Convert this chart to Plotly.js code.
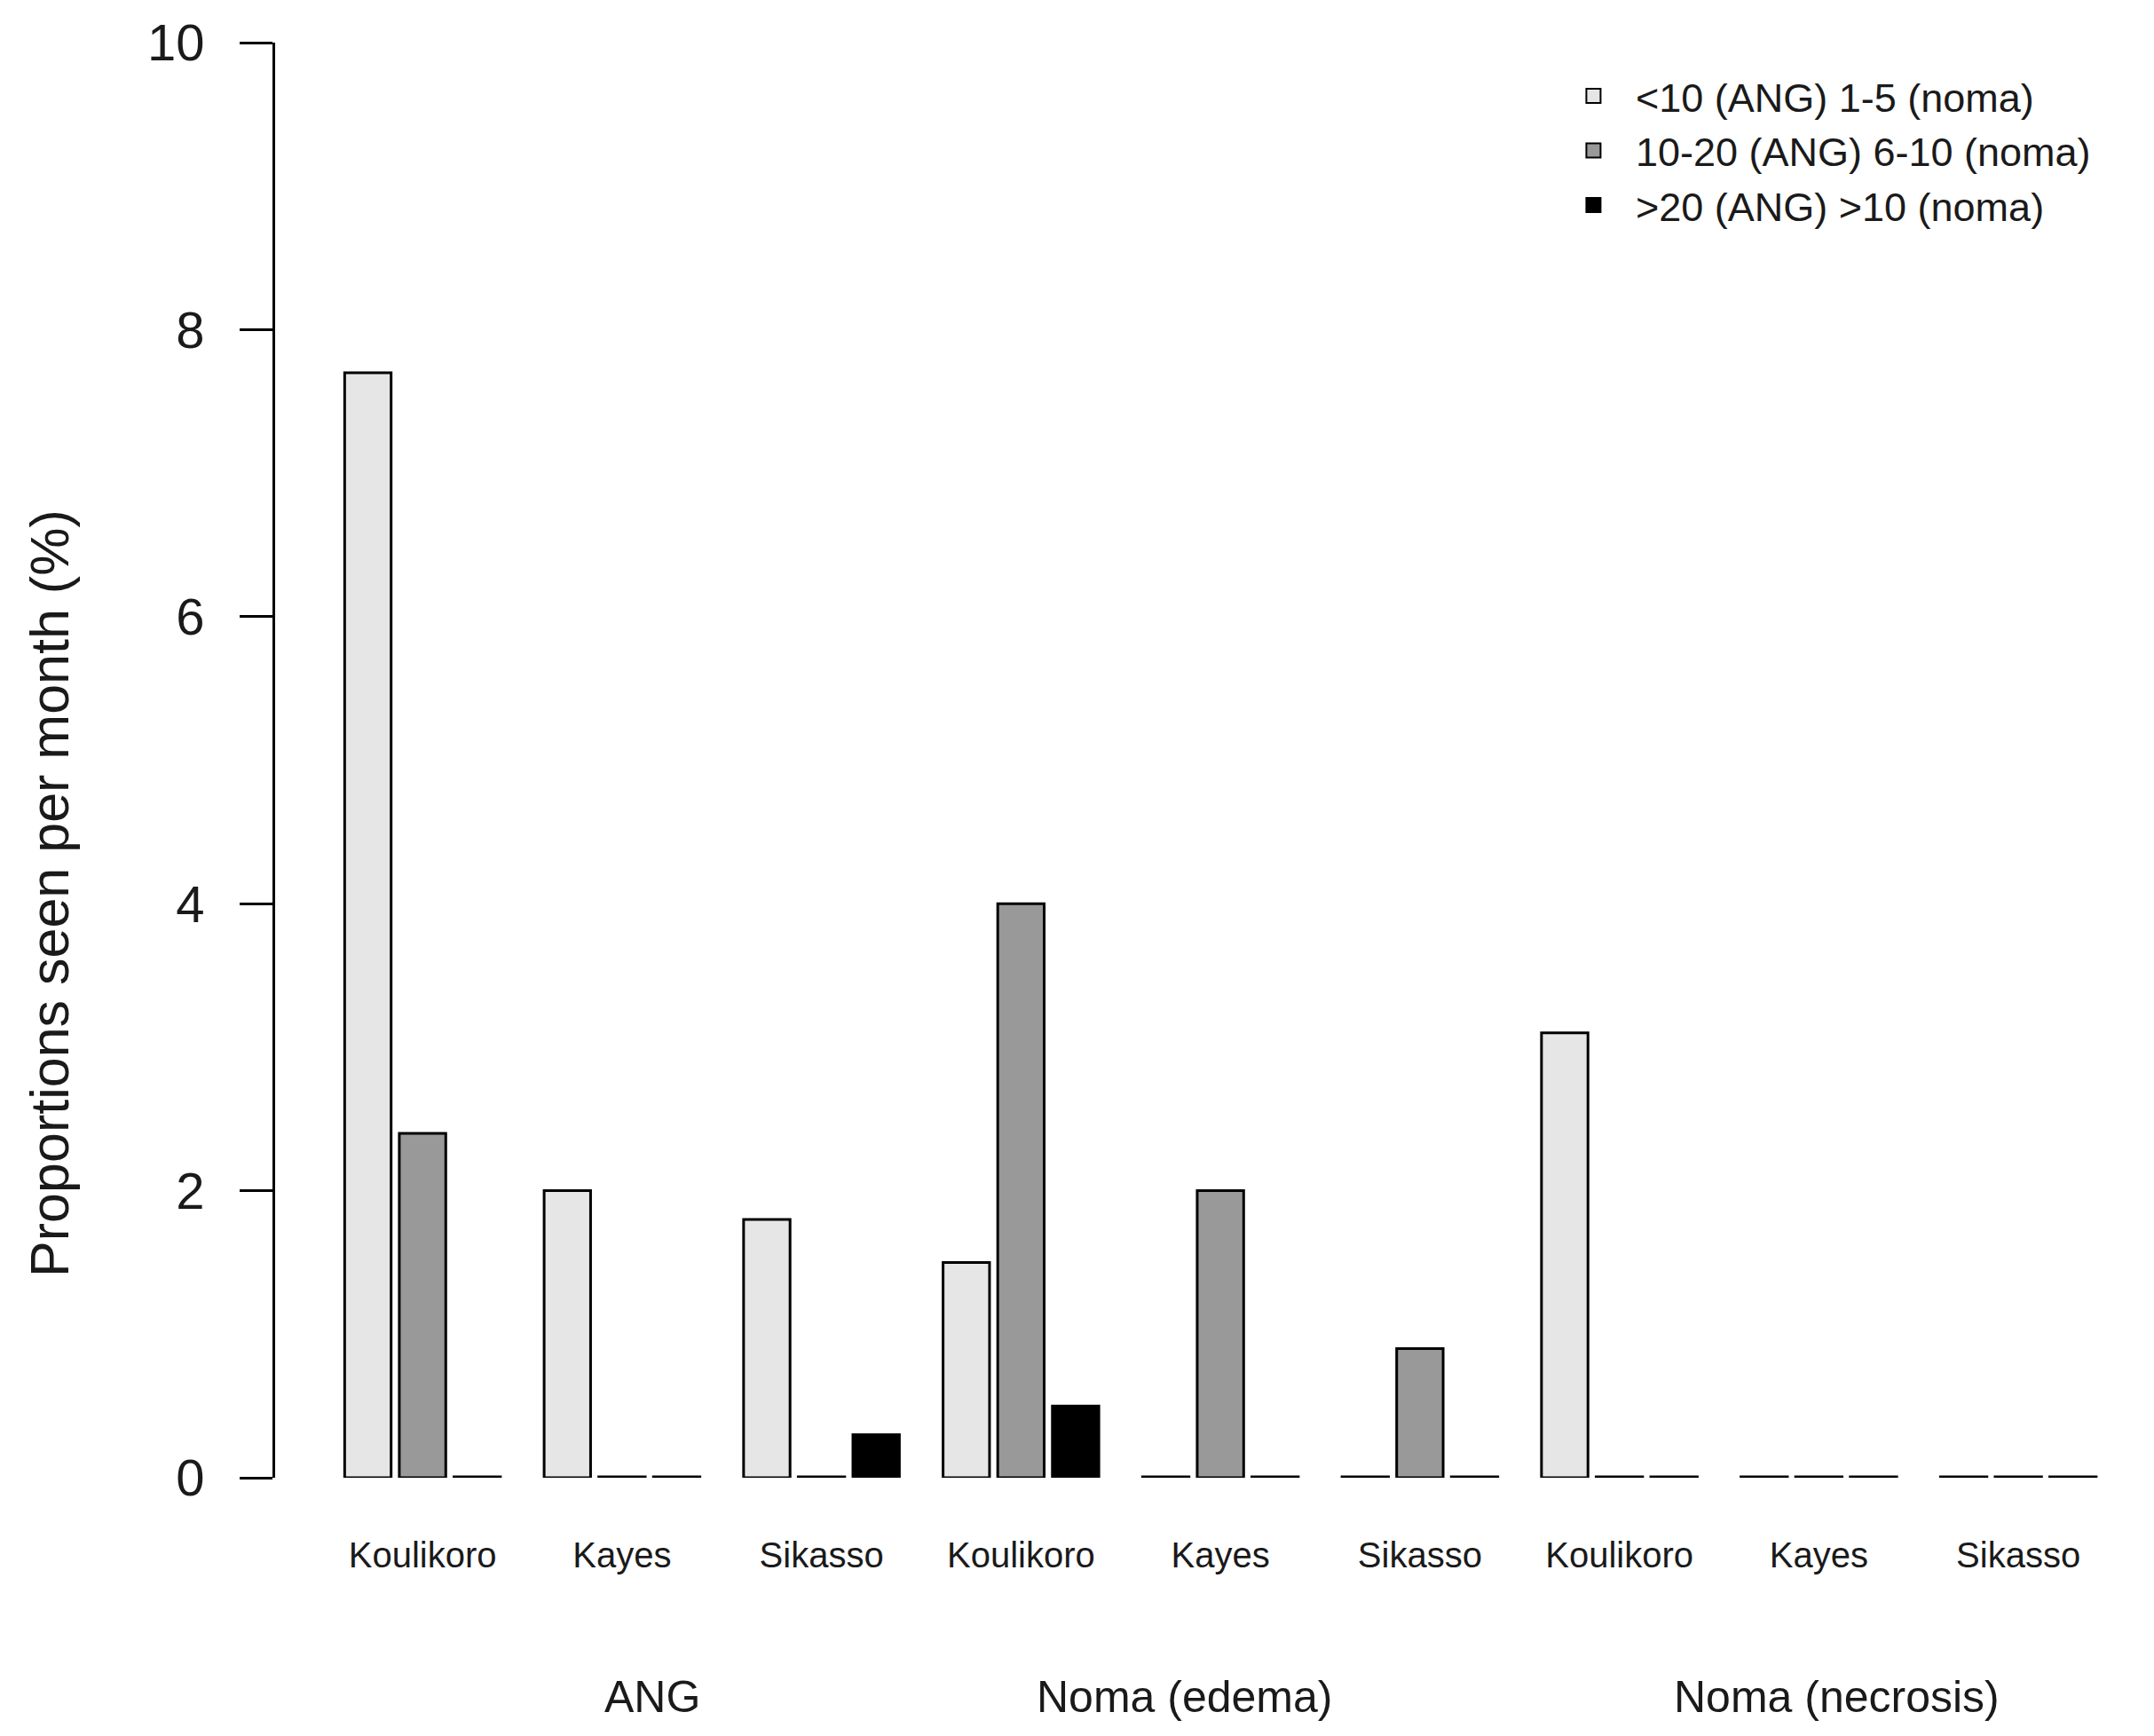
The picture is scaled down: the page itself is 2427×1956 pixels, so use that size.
<!DOCTYPE html>
<html>
<head>
<meta charset="utf-8">
<script src="https://cdn.plot.ly/plotly-3.0.1.min.js"></script>
<style>
	html, body { margin: 0; padding: 0; background: #fff; }
	#crtNoma { width: 2427px; height: 1956px; }
</style>
</head>
<body>
<div id="crtNoma"></div>
<script>
// Outer grouping (lesion type) and inner grouping (region)
var groups = ["ANG", "ANG", "ANG", "Noma (edema)", "Noma (edema)", "Noma (edema)", "Noma (necrosis)", "Noma (necrosis)", "Noma (necrosis)"];
var regions = ["Koulikoro", "Kayes", "Sikasso", "Koulikoro", "Kayes", "Sikasso", "Koulikoro", "Kayes", "Sikasso"];

// Proportions seen per month (%) for each class of cases
var lowVals = [7.7, 2.0, 1.8, 1.5, 0, 0, 3.1, 0, 0];
var midVals = [2.4, 0, 0, 4.0, 2.0, 0.9, 0, 0, 0];
var highVals = [0, 0, 0.3, 0.5, 0, 0, 0, 0, 0];

var seriesNames = ["<10 (ANG) 1-5 (noma)", "10-20 (ANG) 6-10 (noma)", ">20 (ANG) >10 (noma)"];
var seriesColors = ["#e6e6e6", "#999999", "#000000"];

// small shift of the group labels, like the hand placed labels of the original
var groupShift = [34, -41, 20];

var textCol = "#1a1a1a";
var font = "Liberation Sans, Arial, sans-serif";

// unique category id for each bar group
var catIds = [];
for (var i = 0; i < groups.length; i++) {
	catIds.push(groups[i] + "|" + regions[i]);
}

/**
 * Build one bar trace
 * zero values are drawn as a flat outline (like R does) so they get a hair height
 */
var makeTrace = function(vals, idx) {
	var shown = [];
	for (var i = 0; i < vals.length; i++) {
		shown.push(vals[i] === 0 ? 0.006 : vals[i]);
	}
	return {
		x: catIds,
		y: shown,
		customdata: vals,
		name: seriesNames[idx],
		legendgroup: 's' + idx,
		showlegend: false,
		type: 'bar',
		cliponaxis: false,
		marker: {
			color: seriesColors[idx],
			line: { color: "#000000", width: 3 }
		},
		hovertemplate: "%{x}<br>%{customdata}%<extra>" + seriesNames[idx] + "</extra>"
	};
};

/**
 * Legend entry only: a square marker is drawn bigger in the legend than a bar key
 */
var makeKey = function(idx) {
	return {
		x: [null],
		y: [null],
		name: seriesNames[idx],
		legendgroup: 's' + idx,
		type: 'scatter',
		mode: 'markers',
		hoverinfo: 'skip',
		marker: {
			symbol: 'square',
			size: 16,
			color: seriesColors[idx],
			line: { color: "#000000", width: 2 }
		}
	};
};

var data = [];
for (var s = 0; s < 3; s++) {
	data.push(makeTrace([lowVals, midVals, highVals][s], s));
}
for (var s = 0; s < 3; s++) {
	data.push(makeKey(s));
}

// one label per lesion type, under the middle region of its group
var annotations = [];
var seen = {};
var k = 0;
for (var i = 0; i < groups.length; i++) {
	if (seen[groups[i]] === undefined) {
		seen[groups[i]] = true;
		annotations.push({
			x: catIds[i + 1],
			xref: 'x',
			y: 0,
			yref: 'paper',
			yanchor: 'middle',
			yshift: -247,
			xshift: groupShift[k],
			text: groups[i],
			showarrow: false,
			font: { family: font, size: 50, color: textCol }
		});
		k++;
	}
}

// y axis title, placed lower than the plot centre like in the original
annotations.push({
	x: 0,
	xref: 'paper',
	xanchor: 'center',
	xshift: -254,
	y: 0.407,
	yref: 'paper',
	yanchor: 'middle',
	textangle: -90,
	text: "Proportions seen per month (%)",
	showarrow: false,
	font: { family: font, size: 61, color: textCol }
});

var layout = {
	width: 2427,
	height: 1956,
	paper_bgcolor: "#ffffff",
	plot_bgcolor: "#ffffff",
	font: { family: font, color: textCol },
	showlegend: true,
	barmode: 'group',
	bargap: 0.178,
	bargroupgap: 0.15,
	margin: {
		l: 310,
		r: 27,
		b: 291,
		t: 48,
		pad: 0
	},
	xaxis: {
		type: 'category',
		range: [-0.739, 8.56],
		tickvals: catIds,
		ticktext: regions,
		ticks: '',
		showline: false,
		showgrid: false,
		zeroline: false,
		ticklabelstandoff: 60,
		tickfont: { family: font, size: 40, color: textCol }
	},
	yaxis: {
		range: [0, 10],
		tickvals: [0, 2, 4, 6, 8, 10],
		ticks: 'outside',
		ticklen: 37,
		tickwidth: 3,
		tickcolor: "#000000",
		showline: true,
		linecolor: "#000000",
		linewidth: 3,
		showgrid: false,
		zeroline: false,
		ticklabelstandoff: 28,
		tickfont: { family: font, size: 58, color: textCol }
	},
	legend: {
		x: 0.688,
		xanchor: 'left',
		y: 0.985,
		yanchor: 'top',
		itemwidth: 85,
		bgcolor: "rgba(0,0,0,0)",
		traceorder: 'normal',
		font: { family: font, size: 45, color: textCol }
	},
	annotations: annotations
};

Plotly.newPlot('crtNoma', data, layout, { displayModeBar: false });
</script>
</body>
</html>
